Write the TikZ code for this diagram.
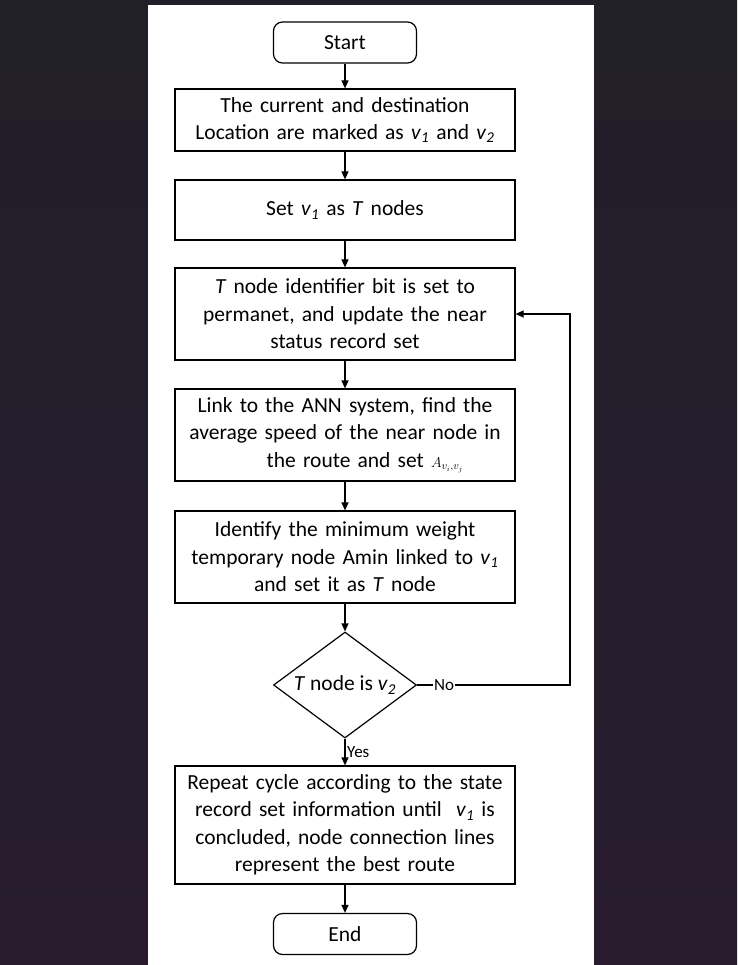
\documentclass[tikz,border=0pt]{standalone}
\usepackage{fontspec}
\setmainfont{Carlito}
\usepackage{tikz}
\usetikzlibrary{shapes.geometric,arrows.meta}
\definecolor{bgtop}{RGB}{33,31,40}
\definecolor{bgbottom}{RGB}{40,27,46}
\newcommand{\vsub}[1]{\textit{v}\textsubscript{\textit{#1}}}

\begin{document}
\begin{tikzpicture}[x=1pt,y=-1pt,
  font=\fontsize{21.5}{27.5}\selectfont,
  box/.style={draw,line width=1.2pt,minimum width=340pt,text width=334pt,align=center,inner sep=0pt},
  terminal/.style={draw,line width=1.2pt,rounded corners=9pt,minimum width=143pt,minimum height=41pt},
  decision/.style={diamond,draw,line width=1.2pt,aspect=1.5,inner sep=0pt,minimum width=143pt,minimum height=106pt},
  arr/.style={line width=1.2pt,-{Triangle[width=7pt,length=8pt]}},
  lbl/.style={font=\fontsize{17}{17}\selectfont,inner sep=1pt}]
  \useasboundingbox (0,0) rectangle (737,965);
  \shade[top color=bgtop,bottom color=bgbottom] (0,0) rectangle (737,965);
  \fill[white] (148,5) rectangle (594,965);

  \node[terminal] (start) at (345,42.5) {Start};
  \node[box,minimum height=62pt] (mark) at (345,120)
    {The current and destination\\Location are marked as \vsub{1} and \vsub{2}};
  \node[box,minimum height=60pt] (setT) at (345,210) {Set \vsub{1} as \textit{T} nodes};
  \node[box,minimum height=92pt] (perm) at (345,314)
    {\textit{T} node identifier bit is set to\\permanet, and update the near\\status record set};
  \node[box,minimum height=92pt] (ann) at (345,435)
    {Link to the ANN system, find the\\average speed of the near node in\\\hspace*{40pt}the route and set {\fontsize{15}{15}\selectfont$A_{v_i,v_j}$}};
  \node[box,minimum height=92pt] (amin) at (345,557)
    {Identify the minimum weight\\temporary node Amin linked to \vsub{1}\\and set it as \textit{T} node};
  \node[decision] (isv2) at (345,685) {\textit{T} node is \vsub{2}};
  \node[box,minimum height=118pt] (repeat) at (345,825)
    {Repeat cycle according to the state\\record set information until~ \vsub{1} is\\concluded, node connection lines\\represent the best route};
  \node[terminal] (end) at (345,934) {End};
  \coordinate (loop) at (570,685);

  \draw[arr] (start) -- (mark);
  \draw[arr] (mark) -- (setT);
  \draw[arr] (setT) -- (perm);
  \draw[arr] (perm) -- (ann);
  \draw[arr] (ann) -- (amin);
  \draw[arr] (amin) -- (isv2);
  \draw[arr] (isv2) -- (repeat);
  \draw[arr] (repeat) -- (end);
  \draw[arr] (isv2.east) -- (loop) |- (perm.east);
  \node[lbl,fill=white] (no) at (444,685) {No};
  \node[lbl,anchor=west] (yes) at (346,752) {Yes};
\end{tikzpicture}
\end{document}
